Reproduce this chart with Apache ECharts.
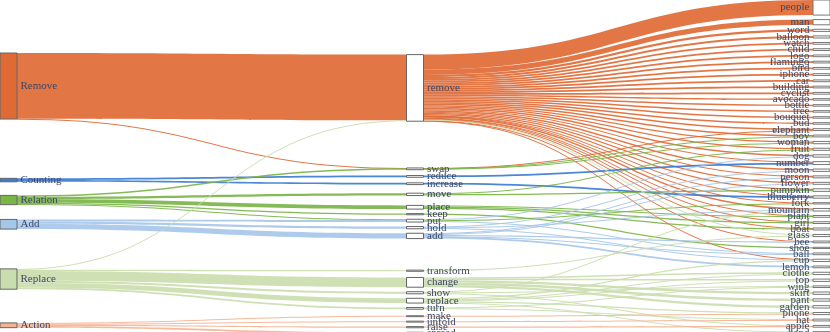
<!DOCTYPE html>
<html>
<head>
<meta charset="utf-8">
<script src="https://cdn.jsdelivr.net/npm/echarts@6/dist/echarts.min.js"></script>
<style>
  html, body { margin: 0; padding: 0; background: #fff; }
  #main { width: 830px; height: 332px; }
</style>
</head>
<body>
<div id="main"></div>
<script>
// left column: instruction categories
const categories = ['Remove', 'Counting', 'Relation', 'Add', 'Replace', 'Action']
const categoryColors = ['#DF6A35', '#3C7DD0', '#7BB548', '#A7C7E9', '#CADDAE', '#F4B494']

// middle column: verbs
const verbs = ['remove', 'swap', 'move', 'reduce', 'increase', 'place', 'keep', 'add', 'put',
  'transform', 'hold', 'show', 'turn', 'replace', 'change', 'spread', 'raise', 'unfold', 'make']

// right column: objects
const objects = ['people', 'man', 'word', 'balloon', 'watch', 'child', 'logo', 'flamingo', 'bird',
  'iphone', 'car', 'building', 'cyclist', 'woman', 'boy', 'fruit', 'person', 'dog', 'flower',
  'pumpkin', 'elephant', 'number', 'avocado', 'bottle', 'tree', 'blueberry', 'plant', 'boat',
  'glass', 'bouquet', 'bud', 'girl', 'shoe', 'fork', 'bee', 'ball', 'cup', 'moon', 'mountain',
  'wing', 'apple', 'hand', 'lemon', 'hat', 'phone', 'clothe', 'top', 'skirt', 'pant', 'garden']

// [category, verb, object, value]
const flows = [
  ['Remove', 'remove', 'people', 13], ['Remove', 'remove', 'man', 4.5],
  ['Remove', 'remove', 'word', 1.8], ['Remove', 'remove', 'balloon', 1.8],
  ['Remove', 'remove', 'watch', 1.5], ['Remove', 'remove', 'child', 1.5],
  ['Remove', 'remove', 'logo', 1.5], ['Remove', 'remove', 'flamingo', 1.5],
  ['Remove', 'remove', 'bird', 1.5], ['Remove', 'remove', 'iphone', 1.5],
  ['Remove', 'remove', 'car', 1.5], ['Remove', 'remove', 'building', 1.5],
  ['Remove', 'remove', 'cyclist', 1.5], ['Remove', 'remove', 'woman', 1.2],
  ['Remove', 'remove', 'boy', 1.2], ['Remove', 'remove', 'fruit', 1],
  ['Remove', 'remove', 'person', 1], ['Remove', 'remove', 'dog', 1.2],
  ['Remove', 'remove', 'flower', 1], ['Remove', 'remove', 'pumpkin', 1],
  ['Remove', 'remove', 'elephant', 1.3], ['Remove', 'remove', 'number', 1],
  ['Remove', 'remove', 'avocado', 1.3], ['Remove', 'remove', 'bottle', 1.3],
  ['Remove', 'remove', 'tree', 1.3], ['Remove', 'remove', 'blueberry', 0.5],
  ['Remove', 'remove', 'plant', 0.5], ['Remove', 'remove', 'boat', 0.5],
  ['Remove', 'remove', 'bouquet', 1.3], ['Remove', 'remove', 'bud', 1.3],
  ['Remove', 'remove', 'girl', 0.5], ['Remove', 'remove', 'fork', 0.5],
  ['Remove', 'remove', 'bee', 0.3], ['Remove', 'remove', 'cup', 0.4],
  ['Remove', 'remove', 'moon', 1.2], ['Remove', 'remove', 'mountain', 1.2],
  ['Remove', 'swap', 'elephant', 0.3],

  ['Counting', 'reduce', 'number', 1.5], ['Counting', 'increase', 'blueberry', 1.5],

  ['Relation', 'swap', 'woman', 0.8], ['Relation', 'swap', 'boy', 0.4],
  ['Relation', 'move', 'fruit', 0.8], ['Relation', 'move', 'pumpkin', 1.2],
  ['Relation', 'place', 'plant', 1], ['Relation', 'place', 'boat', 1.2],
  ['Relation', 'place', 'girl', 1], ['Relation', 'keep', 'shoe', 1],
  ['Relation', 'put', 'fork', 0.6],

  ['Add', 'add', 'person', 0.7], ['Add', 'add', 'flower', 0.7],
  ['Add', 'add', 'bee', 1.2], ['Add', 'add', 'lemon', 1.5], ['Add', 'add', 'ball', 0.5],
  ['Add', 'put', 'dog', 0.8], ['Add', 'put', 'ball', 1],
  ['Add', 'hold', 'moon', 0.8], ['Add', 'hold', 'cup', 0.6], ['Add', 'hold', 'mountain', 0.5],

  ['Replace', 'remove', 'glass', 0.8], ['Replace', 'transform', 'glass', 1],
  ['Replace', 'show', 'mountain', 0.5], ['Replace', 'show', 'wing', 0.8],
  ['Replace', 'show', 'apple', 0.5],
  ['Replace', 'turn', 'wing', 0.6], ['Replace', 'turn', 'hat', 0.8],
  ['Replace', 'replace', 'cup', 1], ['Replace', 'replace', 'hand', 0.5],
  ['Replace', 'replace', 'phone', 1], ['Replace', 'replace', 'top', 0.8],
  ['Replace', 'replace', 'clothe', 0.8],
  ['Replace', 'change', 'clothe', 1.2], ['Replace', 'change', 'top', 1.2],
  ['Replace', 'change', 'skirt', 2], ['Replace', 'change', 'pant', 2],
  ['Replace', 'change', 'garden', 2],

  ['Action', 'spread', 'hand', 1.5], ['Action', 'raise', 'apple', 1],
  ['Action', 'unfold', 'hat', 0.8], ['Action', 'make', 'phone', 0.8]
]

const labelStyle = {
  fontFamily: 'Liberation Serif',
  fontSize: 11,
  color: '#3d4866',
  distance: 3
}

const nodes = []
categories.forEach(function (c, i) {
  nodes.push({
    name: c,
    itemStyle: { color: categoryColors[i], borderColor: '#666', borderWidth: 1 },
    label: { position: 'right' }
  })
})
verbs.forEach(function (v) {
  nodes.push({
    name: v,
    itemStyle: { color: '#fff', borderColor: '#666', borderWidth: 1 },
    label: { position: 'right' }
  })
})
objects.forEach(function (o) {
  nodes.push({
    name: o,
    itemStyle: { color: '#fff', borderColor: '#777', borderWidth: 1 },
    label: { position: 'left' }
  })
})

// category -> verb links are summed, verb -> object links keep their category colour
const firstLinks = {}
const secondLinks = {}
flows.forEach(function (f) {
  const k1 = f[0] + '|' + f[1]
  firstLinks[k1] = (firstLinks[k1] || 0) + f[3]
  const k2 = f[1] + '|' + f[2] + '|' + f[0]
  secondLinks[k2] = (secondLinks[k2] || 0) + f[3]
})
const links = []
Object.keys(firstLinks).forEach(function (k) {
  const p = k.split('|')
  links.push({
    source: p[0], target: p[1], value: firstLinks[k],
    lineStyle: { color: categoryColors[categories.indexOf(p[0])] }
  })
})
Object.keys(secondLinks).forEach(function (k) {
  const p = k.split('|')
  links.push({
    source: p[0], target: p[1], value: secondLinks[k],
    lineStyle: { color: categoryColors[categories.indexOf(p[2])] }
  })
})

const myChart = echarts.init(document.getElementById('main'))
myChart.setOption({
  backgroundColor: '#fff',
  animation: false,
  series: [{
    type: 'sankey',
    left: 0,
    right: 0,
    top: 0,
    bottom: -2,
    nodeWidth: 17,
    nodeGap: 4.5,
    draggable: false,
    emphasis: { disabled: true },
    label: labelStyle,
    lineStyle: { opacity: 0.92, curveness: 0.5 },
    data: nodes,
    links: links
  }]
})
</script>
</body>
</html>
